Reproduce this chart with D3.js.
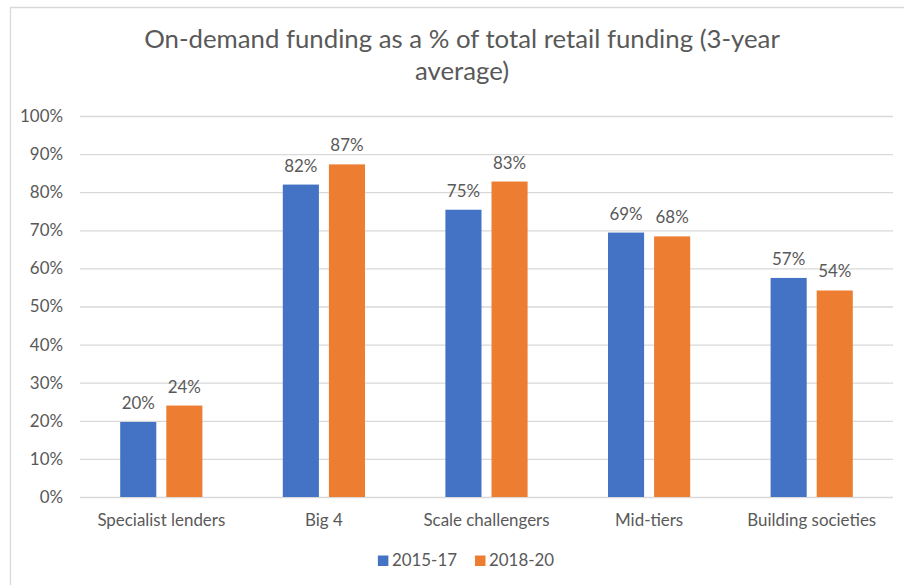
<!DOCTYPE html>
<html>
<head>
<meta charset="utf-8">
<script src="https://cdn.jsdelivr.net/npm/d3@7"></script>
<style>
  html, body { margin: 0; padding: 0; background: #fff; }
  svg { display: block; }
  text { font-family: Lato, "Open Sans", sans-serif; fill: #595959; }
</style>
</head>
<body>
<svg id="chart" width="904" height="585"></svg>
<script>
// Chart data
const categories = ["Specialist lenders", "Big 4", "Scale challengers", "Mid-tiers", "Building societies"];
const seriesNames = ["2015-17", "2018-20"];
const values2015_17 = [0.197, 0.820, 0.754, 0.694, 0.575];
const values2018_20 = [0.240, 0.873, 0.828, 0.684, 0.542];
const tickValues = [0, 0.1, 0.2, 0.3, 0.4, 0.5, 0.6, 0.7, 0.8, 0.9, 1.0];
const titleLines = ["On-demand funding as a % of total retail funding (3-year", "average)"];
const colors = ["#4472C4", "#ED7D31"];

const series = [values2015_17, values2018_20];

const svg = d3.select("#chart");
const W = 904, H = 585;
const plot = { left: 80, right: 893, top: 116, bottom: 497 };

// Chart-area frame (extends past the window edges on the right and bottom)
svg.append("path")
  .attr("d", `M10.5,${H + 5} V7.5 H${W + 5}`)
  .attr("fill", "none")
  .attr("stroke", "#D9D9D9")
  .attr("stroke-width", 1.3);

const x = d3.scaleBand().domain(categories).range([plot.left, plot.right]).padding(0);
const y = d3.scaleLinear().domain([0, 1]).range([plot.bottom, plot.top]);
const fmt = d3.format(".0%");

// Font size at which a text element spans a given width
function fitWidth(sel, target) {
  const base = parseFloat(sel.attr("font-size"));
  return base * target / sel.node().getComputedTextLength();
}

// Title
const title = svg.append("g");
const t1 = title.append("text").attr("font-size", 22).text(titleLines[0]);
const titleSize = fitWidth(t1, 636);
t1.remove();
titleLines.forEach((line, i) => {
  title.append("text")
    .attr("x", 462)
    .attr("y", 47.5 + i * 32.5)
    .attr("text-anchor", "middle")
    .attr("font-size", titleSize)
    .text(line);
});

// Shared label size: first category label ~128px wide
const probe = svg.append("text").attr("font-size", 16).text(categories[0]);
const labelSize = fitWidth(probe, 128);
probe.remove();

// Gridlines + y axis labels
const yAxis = d3.axisLeft(y)
  .tickValues(tickValues)
  .tickFormat(fmt)
  .tickSize(-(plot.right - plot.left))
  .tickPadding(17);
const gy = svg.append("g")
  .attr("transform", `translate(${plot.left},0)`)
  .call(yAxis);
gy.select(".domain").remove();
gy.selectAll(".tick line").attr("stroke", "#D9D9D9").attr("stroke-width", 1.3);
gy.selectAll(".tick text")
  .attr("font-size", labelSize)
  .attr("font-family", "Lato, 'Open Sans', sans-serif")
  .attr("fill", "#595959");

// Category axis labels
const xAxis = d3.axisBottom(x).tickSize(0).tickPadding(17);
const gx = svg.append("g")
  .attr("transform", `translate(0,${plot.bottom})`)
  .call(xAxis);
gx.select(".domain").remove();
gx.selectAll(".tick text")
  .attr("font-size", labelSize)
  .attr("font-family", "Lato, 'Open Sans', sans-serif")
  .attr("fill", "#595959");

// Bars
const bw = x.bandwidth();
const barW = bw * 0.222;
const gap = bw * 0.0615;
const offsets = [-gap / 2 - barW, gap / 2];

series.forEach((vals, s) => {
  const g = svg.append("g");
  g.selectAll("rect")
    .data(vals)
    .join("rect")
    .attr("x", (d, i) => x(categories[i]) + bw / 2 + offsets[s])
    .attr("y", d => y(d))
    .attr("width", barW)
    .attr("height", d => y(0) - y(d))
    .attr("fill", colors[s]);
  g.selectAll("text")
    .data(vals)
    .join("text")
    .attr("x", (d, i) => x(categories[i]) + bw / 2 + offsets[s] + barW / 2)
    .attr("y", d => y(d) - 13)
    .attr("text-anchor", "middle")
    .attr("font-size", labelSize)
    .text(d => fmt(d));
});

// Legend, centred under the plot
const legend = svg.append("g");
let lx = 0;
seriesNames.forEach((name, i) => {
  const item = legend.append("g").attr("transform", `translate(${lx},0)`);
  item.append("rect")
    .attr("x", 0).attr("y", -10.5)
    .attr("width", 10.5).attr("height", 10.5)
    .attr("fill", colors[i]);
  const txt = item.append("text")
    .attr("x", 14)
    .attr("y", 0)
    .attr("font-size", labelSize)
    .text(name);
  const w = 14 + txt.node().getComputedTextLength();
  lx += w + (i < seriesNames.length - 1 ? 18 : 0);
});
legend.attr("transform", `translate(${466 - lx / 2},566)`);
</script>
</body>
</html>
